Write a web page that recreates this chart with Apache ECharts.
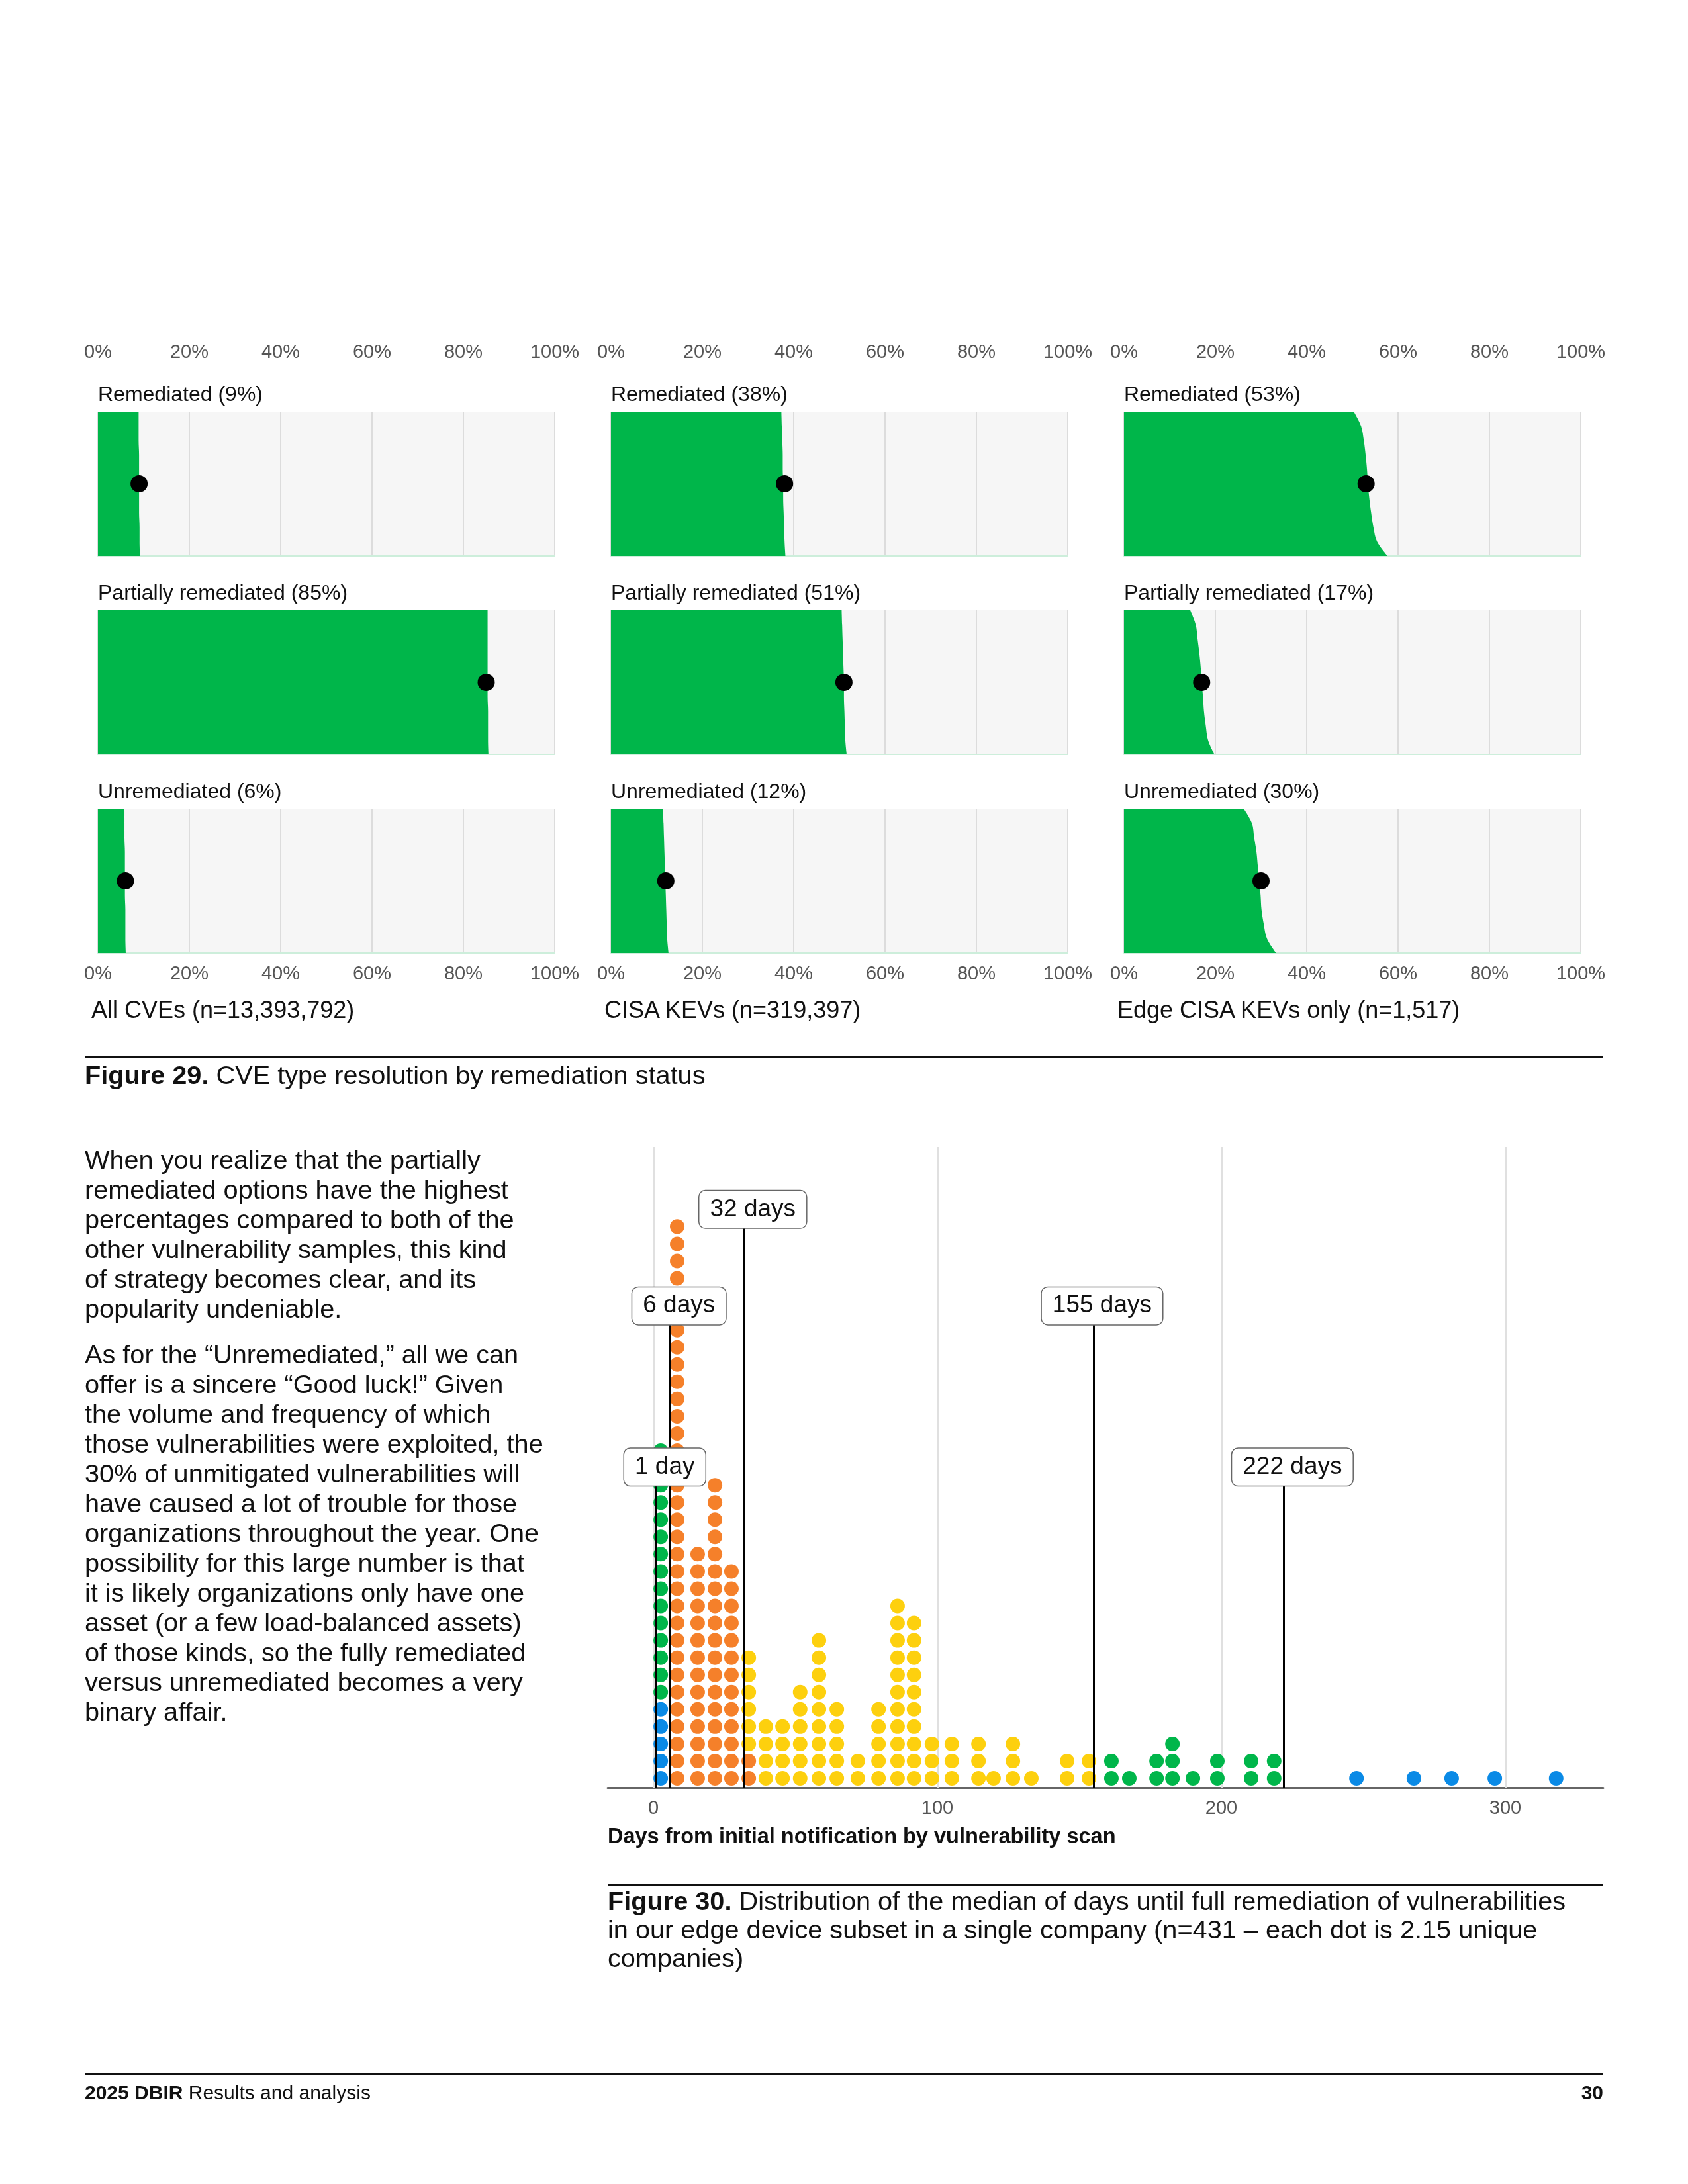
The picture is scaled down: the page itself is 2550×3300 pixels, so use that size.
<!DOCTYPE html>
<html>
<head>
<meta charset="utf-8">
<script src="https://cdn.jsdelivr.net/npm/echarts@6/dist/echarts.min.js"></script>
<style>
  html, body { margin: 0; padding: 0; background: #fff; }
  #page {
    position: relative;
    width: 2550px;
    height: 3300px;
    font-family: "Liberation Sans", Arial, sans-serif;
    color: #111;
  }
  #chart { position: absolute; left: 0; top: 0; width: 2550px; height: 3300px; }
  .txt { position: absolute; white-space: nowrap; line-height: 40px; }
  .para { position: absolute; white-space: nowrap; font-size: 39.7px; line-height: 45px; }
  .rule { position: absolute; height: 3px; background: #111; }
</style>
</head>
<body>
<div id="page">
  <div id="chart"></div>

  <div class="rule" style="left:128px; top:1596px; width:2294px;"></div>
  <div class="txt" style="left:128px; top:1604px; font-size:39.7px;"><b>Figure 29.</b> CVE type resolution by remediation status</div>

  <div class="para" style="left:128px; top:1730px;">When you realize that the partially<br>remediated options have the highest<br>percentages compared to both of the<br>other vulnerability samples, this kind<br>of strategy becomes clear, and its<br>popularity undeniable.</div>
  <div class="para" style="left:128px; top:2024px;">As for the “Unremediated,” all we can<br>offer is a sincere “Good luck!” Given<br>the volume and frequency of which<br>those vulnerabilities were exploited, the<br>30% of unmitigated vulnerabilities will<br>have caused a lot of trouble for those<br>organizations throughout the year. One<br>possibility for this large number is that<br>it is likely organizations only have one<br>asset (or a few load-balanced assets)<br>of those kinds, so the fully remediated<br>versus unremediated becomes a very<br>binary affair.</div>

  <div class="txt" style="left:918px; top:2754px; font-size:32.5px; font-weight:bold;">Days from initial notification by vulnerability scan</div>
  <div class="rule" style="left:918px; top:2846px; width:1504px;"></div>
  <div class="para" style="left:918px; top:2851px; line-height:43px;"><b>Figure 30.</b> Distribution of the median of days until full remediation of vulnerabilities<br>in our edge device subset in a single company (n=431 – each dot is 2.15 unique<br>companies)</div>

  <div class="rule" style="left:128px; top:3132px; width:2294px;"></div>
  <div class="txt" style="left:128px; top:3142px; font-size:30px;"><b>2025 DBIR</b> Results and analysis</div>
  <div class="txt" style="left:2322px; top:3142px; width:100px; text-align:right; font-size:30px; font-weight:bold;">30</div>

  <div id="labels"></div>
</div>

<script>
const FONT = '"Liberation Sans", Arial, sans-serif';
const GREEN = '#00b64a';
const BLUE = '#0a8ae6';
const ORANGE = '#f5802a';
const YELLOW = '#fdd00e';

// Figure 29
const columnTitles = ['All CVEs (n=13,393,792)', 'CISA KEVs (n=319,397)', 'Edge CISA KEVs only (n=1,517)'];
const statusNames = ['Remediated', 'Partially remediated', 'Unremediated'];
const statusShares = [[9, 85, 6], [38, 51, 12], [53, 17, 30]];
// boundary of the green shape, read top to bottom of each panel
const profileSteps = ['0', '0.1', '0.2', '0.3', '0.4', '0.5', '0.6', '0.7', '0.8', '0.9', '1'];
const allCvesRemediated = [8.9, 8.9, 8.9, 9.0, 9.0, 9.0, 9.0, 9.0, 9.1, 9.1, 9.2];
const allCvesPartial = [85.3, 85.3, 85.3, 85.3, 85.3, 85.3, 85.3, 85.4, 85.4, 85.4, 85.5];
const allCvesUnremediated = [5.8, 5.8, 5.8, 5.9, 5.9, 5.9, 5.9, 6.0, 6.0, 6.0, 6.1];
const kevRemediated = [37.3, 37.4, 37.5, 37.6, 37.6, 37.7, 37.7, 37.8, 37.9, 38.0, 38.2];
const kevPartial = [50.5, 50.6, 50.7, 50.8, 50.9, 51.0, 51.0, 51.1, 51.2, 51.3, 51.6];
const kevUnremediated = [11.4, 11.5, 11.6, 11.7, 11.8, 11.9, 12.0, 12.1, 12.2, 12.3, 12.6];
const edgeRemediated = [50.3, 51.9, 52.5, 52.9, 53.2, 53.4, 53.7, 54.1, 54.6, 55.4, 57.7];
const edgePartial = [14.5, 15.7, 16.1, 16.5, 16.8, 17.0, 17.3, 17.5, 17.9, 18.4, 19.8];
const edgeUnremediated = [26.2, 28.0, 28.5, 29.0, 29.3, 29.6, 29.9, 30.1, 30.6, 31.3, 33.3];
const profiles = [
  [allCvesRemediated, allCvesPartial, allCvesUnremediated],
  [kevRemediated, kevPartial, kevUnremediated],
  [edgeRemediated, edgePartial, edgeUnremediated],
];

// Figure 30
const dayTicks = [0, 100, 200, 300];
const lowBlueDays = [2.6];
const lowBlueCounts = [5];
const lowGreenDays = [2.6];
const lowGreenCounts = [15];
const orangeDays = [8.4, 15.6, 21.7, 27.5, 33.6];
const orangeCounts = [33, 14, 18, 13, 2];
const yellowDays = [33.6, 39.6, 45.5, 51.7, 58.3, 64.6, 72.0, 79.3, 86.0, 91.8, 98.1, 105.1, 114.5, 119.8, 126.6, 133.1, 145.7, 153.4];
const yellowCounts = [6, 4, 4, 6, 9, 5, 2, 5, 11, 10, 3, 3, 3, 1, 3, 1, 2, 2];
const highGreenDays = [161.3, 167.6, 177.2, 182.8, 190.0, 198.6, 210.5, 218.6];
const highGreenCounts = [2, 1, 2, 3, 1, 2, 2, 2];
const highBlueDays = [247.6, 267.8, 281.1, 296.3, 317.9];
const highBlueCounts = [1, 1, 1, 1, 1];
const medianDays = [1, 6, 32, 155, 222];
const medianLabels = ['1 day', '6 days', '32 days', '155 days', '222 days'];
const medianLabelRows = [18.05, 27.4, 33.0, 27.4, 18.05];

// layout
const colLeft = [148, 923, 1698];
const rowTop = [622, 922, 1222];
const PANEL_W = 690;
const PANEL_H = 218;

// html titles for the small panels
const labelBox = document.getElementById('labels');
function addText(x, capCenter, size, text) {
  const d = document.createElement('div');
  d.className = 'txt';
  d.style.left = x + 'px';
  d.style.top = (capCenter - 20) + 'px';
  d.style.fontSize = size + 'px';
  d.textContent = text;
  labelBox.appendChild(d);
}
for (let c = 0; c < 3; c++) {
  for (let r = 0; r < 3; r++) {
    addText(colLeft[c], rowTop[r] - 27, 32, statusNames[r] + ' (' + statusShares[c][r] + '%)');
  }
  addText(colLeft[c] - 10, 1526, 36, columnTitles[c]);
}

const tickLabel = { color: '#555', fontSize: 29, fontFamily: FONT };
const grids = [];
const xAxes = [];
const yAxes = [];
const series = [];

for (let c = 0; c < 3; c++) {
  for (let r = 0; r < 3; r++) {
    const g = grids.length;
    grids.push({
      left: colLeft[c], top: rowTop[r], width: PANEL_W, height: PANEL_H,
      show: true, backgroundColor: '#f6f6f6', borderWidth: 0,
      outerBoundsMode: 'none', containLabel: false,
    });
    const xi = xAxes.length;
    xAxes.push({
      gridIndex: g, type: 'value', min: 0, max: 100, interval: 20, position: 'bottom',
      axisLine: { show: true, onZero: false, lineStyle: { color: '#cdeedb', width: 2 } },
      axisTick: { show: false },
      axisLabel: Object.assign({ show: r === 2, margin: 17, formatter: '{value}%' }, tickLabel),
      splitLine: { show: true, lineStyle: { color: '#dcdcdc', width: 2 } },
    });
    if (r === 0) {
      xAxes.push({
        gridIndex: g, type: 'value', min: 0, max: 100, interval: 20, position: 'top',
        axisLine: { show: false }, axisTick: { show: false }, splitLine: { show: false },
        axisLabel: Object.assign({ margin: 75, formatter: '{value}%' }, tickLabel),
      });
    }
    yAxes.push({ gridIndex: g, type: 'category', data: profileSteps, inverse: true, boundaryGap: false, show: false });
    series.push({
      type: 'line', xAxisIndex: xi, yAxisIndex: g, data: profiles[c][r],
      smooth: 0.35, symbol: 'none', silent: true, z: 2,
      lineStyle: { width: 0 },
      areaStyle: { color: GREEN, opacity: 1 },
    });
    series.push({
      type: 'scatter', xAxisIndex: xi, yAxisIndex: g, data: [[statusShares[c][r], 5]],
      symbolSize: 26, itemStyle: { color: '#000', opacity: 1 }, silent: true, z: 4,
    });
  }
}

// dot plot
const g30 = grids.length;
grids.push({ left: 918, top: 1733, width: 1504, height: 968, show: false, outerBoundsMode: 'none', containLabel: false });
const x30 = xAxes.length;
xAxes.push({
  gridIndex: g30, type: 'value', min: -16.08, max: 334.5,
  axisLine: { show: true, onZero: false, lineStyle: { color: '#666', width: 3 } },
  axisTick: { show: false },
  splitLine: { show: false },
  axisLabel: Object.assign({ customValues: dayTicks, margin: 17 }, tickLabel),
});
const y30 = yAxes.length;
const Y_MIN = -0.537;
yAxes.push({ gridIndex: g30, type: 'value', min: Y_MIN, max: 36.62, show: false });

const stackHeight = {};
function buildDots(days, counts) {
  const pts = [];
  days.forEach((d, i) => {
    const key = d.toFixed(1);
    const base = stackHeight[key] || 0;
    for (let k = 0; k < counts[i]; k++) pts.push([d, base + k]);
    stackHeight[key] = base + counts[i];
  });
  return pts;
}
const lowBlue = buildDots(lowBlueDays, lowBlueCounts);
const lowGreen = buildDots(lowGreenDays, lowGreenCounts);
const orangeDots = buildDots(orangeDays, orangeCounts);
const yellowDots = buildDots(yellowDays, yellowCounts);
const highGreen = buildDots(highGreenDays, highGreenCounts);
const highBlue = buildDots(highBlueDays, highBlueCounts);

series.push({
  type: 'scatter', xAxisIndex: x30, yAxisIndex: y30, data: [], silent: true, z: 1,
  markLine: {
    silent: true, z: 1, symbol: ['none', 'none'], label: { show: false },
    lineStyle: { color: '#e0e0e0', width: 3, type: 'solid' },
    data: dayTicks.map((d) => ({ xAxis: d })),
  },
});

[[lowBlue.concat(highBlue), BLUE], [lowGreen.concat(highGreen), GREEN], [orangeDots, ORANGE], [yellowDots, YELLOW]].forEach(([pts, color]) => {
  series.push({
    type: 'scatter', xAxisIndex: x30, yAxisIndex: y30, data: pts,
    symbolSize: 22, itemStyle: { color: color, opacity: 1 }, silent: true, z: 2,
  });
});

// median lines
series.push({
  type: 'scatter', xAxisIndex: x30, yAxisIndex: y30, data: [], silent: true, z: 6,
  markLine: {
    silent: true, z: 6, symbol: ['none', 'none'], label: { show: false },
    lineStyle: { color: '#000', width: 3, type: 'solid' },
    data: medianDays.map((d, i) => [{ coord: [d, Y_MIN] }, { coord: [d, medianLabelRows[i] - 1.075] }]),
  },
});

// boxed median labels
series.push({
  type: 'custom', xAxisIndex: x30, yAxisIndex: y30, silent: true, z: 20,
  data: medianDays.map((d, i) => [d, medianLabelRows[i]]),
  renderItem: (params, api) => {
    const pt = api.coord([api.value(0), api.value(1)]);
    return {
      type: 'text',
      x: pt[0] + 13,
      y: pt[1],
      z2: 100,
      style: {
        text: medianLabels[params.dataIndex],
        fontFamily: FONT, fontSize: 37, lineHeight: 38, fill: '#111',
        align: 'center', verticalAlign: 'middle',
        backgroundColor: '#fff', borderColor: '#666', borderWidth: 1.5, borderRadius: 9,
        padding: [9, 16],
      },
    };
  },
});

const chart = echarts.init(document.getElementById('chart'), null, { renderer: 'canvas' });
chart.setOption({
  animation: false,
  textStyle: { fontFamily: FONT },
  grid: grids,
  xAxis: xAxes,
  yAxis: yAxes,
  series: series,
});
</script>
</body>
</html>
